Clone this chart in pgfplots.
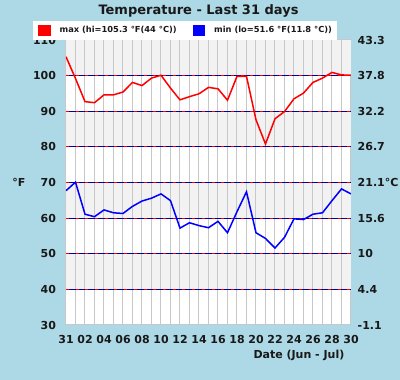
\documentclass[border=0pt]{standalone}
\usepackage{pgfplots}
\pgfplotsset{compat=1.18}
\usepackage{pgfplotstable}
\usepackage{fontspec}
\setmainfont{DejaVu Sans}
\definecolor{bg}{HTML}{ADD8E6}
\definecolor{band}{HTML}{F2F2F2}
\definecolor{vgrid}{HTML}{C8C8C8}
\definecolor{gridblue}{HTML}{00009A}
\definecolor{maxred}{HTML}{FF0000}
\definecolor{minblue}{HTML}{0000FF}

\pgfplotstableread{
d tmax tmin
0 105.3 67.7
1 99.2 70.1
2 92.7 61.1
3 92.4 60.4
4 94.6 62.3
5 94.6 61.5
6 95.4 61.3
7 98.1 63.3
8 97.2 64.8
9 99.3 65.6
10 100.1 66.8
11 96.5 64.9
12 93.2 57.2
13 94.1 58.7
14 94.9 57.9
15 96.7 57.3
16 96.3 59.1
17 93.1 55.9
18 99.8 61.8
19 99.8 67.4
20 87.6 55.9
21 80.8 54.3
22 87.9 51.6
23 89.9 54.6
24 93.5 59.8
25 95.1 59.6
26 98.1 61.1
27 99.3 61.5
28 100.9 64.9
29 100.2 68.2
30 100.1 66.8
}\temps

\begin{document}
\begin{tikzpicture}
\useasboundingbox (0pt,0pt) rectangle (400pt,380pt);
\fill[bg] (0pt,0pt) rectangle (400pt,380pt);
\begin{axis}[
  at={(66pt,55pt)}, anchor=south west,
  scale only axis, width=285pt, height=285pt,
  xmin=0, xmax=30, ymin=30, ymax=110,
  axis background/.style={fill=white},
  axis line style={vgrid, line width=1pt},
  major tick length=0pt,
  xtick={0,2,...,30},
  xticklabels={31,02,04,06,08,10,12,14,16,18,20,22,24,26,28,30},
  ytick={30,40,...,110},
  yticklabels={30,40,50,60,70,80,90,100,110},
  ticklabel style={font=\bfseries\fontsize{11}{13}\selectfont, text=black!90},
  xticklabel style={yshift=-6.5pt},
  yticklabel style={xshift=-6.5pt},
  title={Temperature - Last 31 days},
  title style={at={(axis description cs:0.465,1.0895)}, anchor=base, yshift=-6pt, font=\bfseries\fontsize{13}{15}\selectfont, text=black!90},
  xlabel={Date (Jun - Jul)},
  xlabel style={at={(axis description cs:0.989,-0.119)}, anchor=base east, font=\bfseries\fontsize{11}{13}\selectfont, text=black!90},
  ylabel={°F},
  ylabel style={rotate=-90, at={(axis description cs:-0.165,0.5)}, anchor=center, font=\bfseries\fontsize{11}{13}\selectfont, text=black!90},
  legend columns=2,
  legend image code/.code={\fill[#1] (0pt,-4.5pt) rectangle (11pt,4.5pt);},
  legend style={at={(axis description cs:-0.1158,1)}, anchor=south west,
    draw=none, fill=white, inner xsep=5pt, inner ysep=4pt,
    font=\bfseries\fontsize{8.3}{9}\selectfont, text=black!90,
    nodes={inner sep=0pt},
    /tikz/every odd column/.append style={column sep=9pt},
    /tikz/every even column/.append style={column sep=16pt}},
]
\fill[band] (axis cs:0,100) rectangle (axis cs:30,110);
\fill[band] (axis cs:0,80) rectangle (axis cs:30,90);
\fill[band] (axis cs:0,60) rectangle (axis cs:30,70);
\fill[band] (axis cs:0,40) rectangle (axis cs:30,50);
\pgfplotsinvokeforeach{1,...,29}{
  \draw[vgrid, line width=1pt] (axis cs:#1,30) -- (axis cs:#1,110);
}
\pgfplotsinvokeforeach{40,50,...,100}{
  \draw[gridblue, line width=1.2pt] (axis cs:0,#1) -- (axis cs:30,#1);
  \draw[maxred, line width=1.2pt, dash pattern=on 3pt off 6.7pt] (axis cs:0,#1) -- (axis cs:30,#1);
}
\addplot[maxred, line width=1.5pt] table[x=d, y=tmax] {\temps};
\addlegendentry{max (hi=105.3 °F(44 °C))}
\addplot[minblue, line width=1.5pt] table[x=d, y=tmin] {\temps};
\addlegendentry{min (lo=51.6 °F(11.8 °C))\hspace{3pt}}
\end{axis}
\begin{axis}[
  at={(66pt,55pt)}, anchor=south west,
  scale only axis, width=285pt, height=285pt,
  xmin=0, xmax=30, ymin=30, ymax=110,
  hide x axis, axis y line*=right, axis line style={draw=none},
  major tick length=0pt,
  ytick={30,40,...,110},
  yticklabels={-1.1,4.4,10,15.6,21.1°C,26.7,32.2,37.8,43.3},
  yticklabel style={font=\bfseries\fontsize{11}{13}\selectfont, text=black!90, anchor=west, xshift=3.2pt},
]
\end{axis}
\end{tikzpicture}
\end{document}
